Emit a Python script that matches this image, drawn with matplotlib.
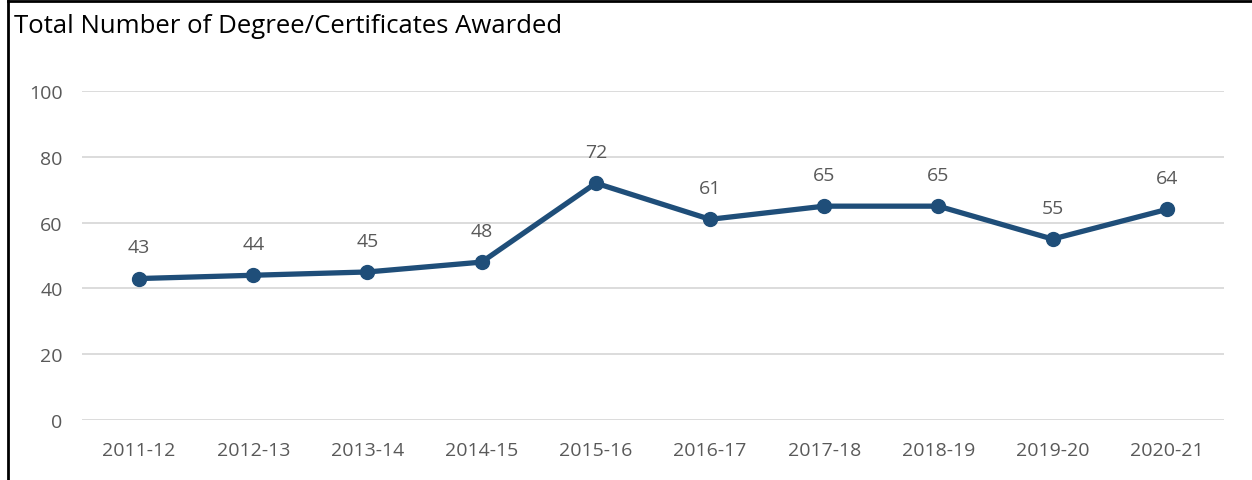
import matplotlib
matplotlib.use("Agg")
import matplotlib.pyplot as plt
from matplotlib.lines import Line2D

plt.rcParams['font.family'] = ['Open Sans', 'DejaVu Sans']

# data
years = ["2011-12", "2012-13", "2013-14", "2014-15", "2015-16",
         "2016-17", "2017-18", "2018-19", "2019-20", "2020-21"]
awarded = [43, 44, 45, 48, 72, 61, 65, 65, 55, 64]
yticks = [0, 20, 40, 60, 80, 100]

line_color = "#1F4E79"
text_gray = "#595959"

fig = plt.figure(figsize=(12.52, 4.81), dpi=100)
ax = fig.add_axes([0.0655, 0.1247, 0.912, 0.684])

x = list(range(len(years)))
ax.plot(x, awarded, color=line_color, lw=3.8, marker="o", ms=10,
        solid_joinstyle="round", zorder=3)
for xi, v in zip(x, awarded):
    ax.annotate(str(v), (xi, v), xytext=(0, 16), textcoords="offset points",
                ha="center", va="bottom", fontsize=14, color=text_gray)

ax.set_xlim(-0.5, len(years) - 0.5)
ax.set_ylim(0, 100)
ax.set_yticks(yticks)
ax.set_xticks(x)
ax.set_xticklabels(years)
ax.yaxis.grid(True, color="#D9D9D9", lw=1.3)
ax.set_axisbelow(True)
for s in ax.spines.values():
    s.set_visible(False)
ax.tick_params(length=0, labelsize=14, labelcolor=text_gray)
ax.tick_params(axis="y", pad=14)
ax.tick_params(axis="x", pad=15)

fig.text(0.011, 0.945, "Total Number of Degree/Certificates Awarded",
         fontsize=18.5, color="black", ha="left", va="center")

# frame lines (left and top)
fig.add_artist(Line2D([0.0064, 0.0064], [0, 0.995], color="black", lw=2,
                      transform=fig.transFigure))
fig.add_artist(Line2D([0.0064, 1.0], [0.995, 0.995], color="black", lw=2,
                      transform=fig.transFigure))

fig.savefig("out.png", dpi=100)
